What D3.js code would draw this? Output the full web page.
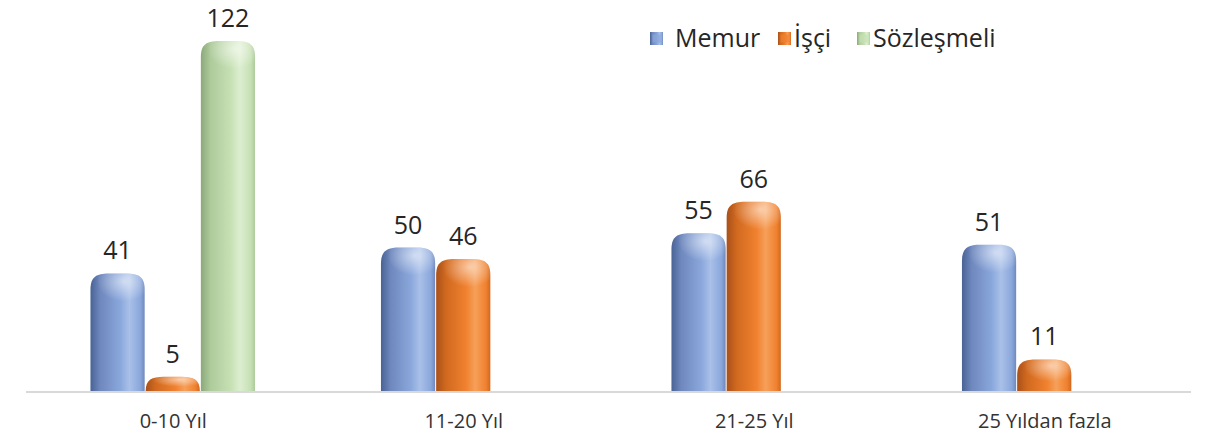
<!DOCTYPE html>
<html><head><meta charset="utf-8">
<script src="https://cdn.jsdelivr.net/npm/d3@7"></script>
<style>body{margin:0;background:#fff}svg{display:block}</style>
</head><body>
<svg id="c" width="1210" height="441"></svg>
<script>
const categories = ["0-10 Yıl", "11-20 Yıl", "21-25 Yıl", "25 Yıldan fazla"];
const seriesNames = ["Memur", "İşçi", "Sözleşmeli"];
const memur = [41, 50, 55, 51];
const isci = [5, 46, 66, 11];
const sozlesmeli = [122, null, null, null];
const seriesValues = [memur, isci, sozlesmeli];
const colors = [
  {dark:"#4a6396", mid:"#8aa7dc", light:"#a9c0e8", edge:"#6f88bd"},
  {dark:"#a9501a", mid:"#f0812f", light:"#f6a05a", edge:"#d0691f"},
  {dark:"#8aa97a", mid:"#c6e0b4", light:"#ddeed0", edge:"#aecb9c"}
];
const font = "'Open Sans', Lato, sans-serif";

const svg = d3.select("#c");
const x0 = d3.scaleBand().domain(categories).range([28, 1190]).paddingInner(0.43).paddingOuter(0.215);
const x1 = d3.scaleBand().domain(seriesNames).range([0, x0.bandwidth()]).padding(0);
const y = d3.scaleLinear().domain([0, 122]).range([391, 41]);

const defs = svg.append("defs");
colors.forEach((c, i) => {
  const g = defs.append("linearGradient").attr("id", "g" + i).attr("x1", 0).attr("x2", 1).attr("y1", 0).attr("y2", 0);
  g.append("stop").attr("offset", "0%").attr("stop-color", c.dark);
  g.append("stop").attr("offset", "18%").attr("stop-color", c.edge);
  g.append("stop").attr("offset", "55%").attr("stop-color", c.mid);
  g.append("stop").attr("offset", "72%").attr("stop-color", c.light);
  g.append("stop").attr("offset", "92%").attr("stop-color", c.mid);
  g.append("stop").attr("offset", "100%").attr("stop-color", c.edge);
  const r = defs.append("radialGradient").attr("id", "h" + i).attr("cx", "0.62").attr("cy", "0.2").attr("r", "0.5");
  r.append("stop").attr("offset", "0%").attr("stop-color", "#fff").attr("stop-opacity", 0.55);
  r.append("stop").attr("offset", "100%").attr("stop-color", "#fff").attr("stop-opacity", 0);
});

svg.append("line").attr("x1", 26).attr("x2", 1191).attr("y1", 392).attr("y2", 392)
  .attr("stroke", "#d9d9d9").attr("stroke-width", 2);

function barPath(x, yt, w, yb) {
  const h = yb - yt;
  const ry = Math.min(16, h);
  const rx = Math.min(18, w / 2);
  return `M${x},${yb} L${x},${yt + ry} C${x},${yt + ry * 0.2} ${x + rx * 0.35},${yt} ${x + rx},${yt} ` +
    `L${x + w - rx},${yt} C${x + w - rx * 0.35},${yt} ${x + w},${yt + ry * 0.2} ${x + w},${yt + ry} L${x + w},${yb} Z`;
}

categories.forEach((cat, ci) => {
  seriesNames.forEach((s, si) => {
    const v = seriesValues[si][ci];
    if (v == null) return;
    const bx = x0(cat) + x1(s);
    const bw = x1.bandwidth() - 1;
    const yt = y(v), yb = y(0);
    svg.append("path").attr("d", barPath(bx, yt, bw, yb)).attr("fill", `url(#g${si})`);
    const hh = Math.min(40, yb - yt);
    svg.append("path").attr("d", barPath(bx, yt, bw, yt + hh)).attr("fill", `url(#h${si})`);
    svg.append("text").attr("x", bx + bw / 2).attr("y", yt - 14)
      .attr("text-anchor", "middle").attr("font-family", font).attr("font-size", 25)
      .attr("fill", "#262626").text(v);
  });
  svg.append("text").attr("x", x0(cat) + x0.bandwidth() / 2).attr("y", 428)
    .attr("text-anchor", "middle").attr("font-family", font).attr("font-size", 20)
    .attr("font-weight", 500).attr("fill", "#333").text(cat);
});

const legendX = [650, 778, 857];
const legendTextX = [675, 794, 873];
seriesNames.forEach((s, i) => {
  const lg = svg.append("g").attr("transform", `translate(${legendX[i]},32)`);
  lg.append("rect").attr("width", 13).attr("height", 13).attr("fill", `url(#g${i})`);
  lg.append("rect").attr("x", 2.5).attr("y", 2.5).attr("width", 8).attr("height", 8).attr("fill", colors[i].mid).attr("opacity", 0.7);
  svg.append("text").attr("x", legendTextX[i]).attr("y", 47).attr("font-family", font).attr("font-size", 25)
    .attr("fill", "#262626").text(s);
});
</script>
</body></html>
